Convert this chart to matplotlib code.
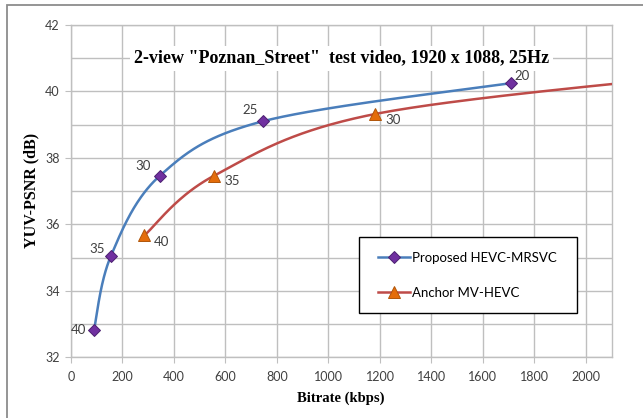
import numpy as np
import matplotlib.pyplot as plt
from matplotlib.patches import Rectangle

# Rate-distortion points (QP labelled next to each marker)
proposed_rate = [89, 155, 346, 744, 1707]
proposed_psnr = [32.81, 35.05, 37.47, 39.10, 40.25]
proposed_qp = ["40", "35", "30", "25", "20"]

anchor_rate = [285, 557, 1180, 2600]
anchor_psnr = [35.67, 37.47, 39.32, 40.62]
anchor_qp = ["40", "35", "30", "25"]

x_ticks = list(range(0, 2001, 200))
y_ticks = [32, 34, 36, 38, 40, 42]

BLUE = "#4A7EBB"
RED = "#BE4B48"
GRID = "#BFBFBF"
TEXT = "#404040"


def smooth_curve(xs, ys, n=60):
    """
    Excel-style smoothed line: cubic Bezier segments with Catmull-Rom tangents.
    """
    p = np.column_stack([xs, ys]).astype(float)
    ext = np.vstack([p[0], p, p[-1]])
    out = []
    for i in range(len(p) - 1):
        p0, p1, p2, p3 = ext[i], ext[i + 1], ext[i + 2], ext[i + 3]
        c1 = p1 + (p2 - p0) / 6.0
        c2 = p2 - (p3 - p1) / 6.0
        t = np.linspace(0, 1, n)[:, None]
        seg = ((1 - t) ** 3) * p1 + 3 * ((1 - t) ** 2) * t * c1 \
            + 3 * (1 - t) * t ** 2 * c2 + t ** 3 * p2
        out.append(seg if i == 0 else seg[1:])
    out = np.vstack(out)
    return out[:, 0], out[:, 1]


plt.rcParams["font.family"] = ["Lato", "DejaVu Sans"]

W, H = 643, 418
fig = plt.figure(figsize=(W / 100, H / 100), dpi=100)
ax = fig.add_axes([71 / W, 1 - 357.3 / H, 540.7 / W, 332.3 / H])

# outer chart border (only left/top visible in the reference)
fig.patches.append(Rectangle((7 / W, -0.1), 1.2, 1 - 5 / H + 0.1,
                             transform=fig.transFigure, fill=False,
                             edgecolor="#8C8C8C", lw=1.3))

bx, by = smooth_curve(proposed_rate, proposed_psnr)
ax.plot(bx, by, color=BLUE, lw=1.8, zorder=3)
rx, ry = smooth_curve(anchor_rate, anchor_psnr)
ax.plot(rx, ry, color=RED, lw=1.8, zorder=3)

ax.plot(proposed_rate, proposed_psnr, linestyle="none", marker="D", ms=6,
        mfc="#7030A0", mec="#4B2070", mew=0.7, zorder=4)
ax.plot(anchor_rate, anchor_psnr, linestyle="none", marker="^", ms=8,
        mfc="#E46C0A", mec="#B0560A", mew=0.7, zorder=4)

# QP labels
prop_offsets = [(-11, 0), (-10, 5), (-12, 7), (-9, 8), (8, 5)]
for x, y, s, (dx, dy) in zip(proposed_rate, proposed_psnr, proposed_qp, prop_offsets):
    ax.annotate(s, (x, y), xytext=(dx, dy), textcoords="offset points",
                ha="center", va="center", fontsize=9.5, color=TEXT, zorder=7)
anch_offsets = [(12, -5), (13, -4), (13, -4), (13, -4)]
for x, y, s, (dx, dy) in zip(anchor_rate, anchor_psnr, anchor_qp, anch_offsets):
    if x <= 2100:
        ax.annotate(s, (x, y), xytext=(dx, dy), textcoords="offset points",
                    ha="center", va="center", fontsize=9.5, color=TEXT, zorder=7)

ax.set_xlim(0, 2100)
ax.set_ylim(32, 42)
ax.set_xticks(x_ticks)
ax.set_yticks(y_ticks)
ax.set_yticks(range(33, 42, 2), minor=True)
ax.tick_params(axis="both", which="major", direction="out", length=4,
               color=GRID, labelsize=9, labelcolor=TEXT)
ax.tick_params(axis="x", which="major", pad=6)
ax.tick_params(axis="y", which="major", pad=4)
ax.tick_params(axis="y", which="minor", length=0)
ax.grid(True, which="both", color=GRID, lw=1.0)
ax.set_axisbelow(True)
for sp in ax.spines.values():
    sp.set_color(GRID)
    sp.set_linewidth(1.0)

serif = ["Liberation Serif", "DejaVu Serif"]
ax.text(0.5, 0.9, '2-view "Poznan_Street"  test video, 1920 x 1088, 25Hz',
        transform=ax.transAxes, ha="center", va="center", fontsize=13,
        fontweight="bold", family=serif, color="black", zorder=2,
        bbox=dict(facecolor="white", edgecolor="none", pad=3))
fig.text(341 / W, 1 - 398 / H, "Bitrate (kbps)", ha="center", va="center",
         fontsize=10.5, fontweight="bold", family=serif)
fig.text(31 / W, 1 - 190 / H, "YUV-PSNR (dB)", ha="center", va="center",
         rotation=90, fontsize=11.5, fontweight="bold", family=serif)

# legend: frame drawn separately so the inner spacing can match
fig.patches.append(Rectangle((359 / W, 1 - 313 / H), 218 / W, 76 / H,
                             transform=fig.transFigure, facecolor="white",
                             edgecolor="black", lw=1.0, zorder=8))
leg_h = [ax.plot([], [], color=BLUE, lw=1.8, marker="D", ms=6, mfc="#7030A0",
                 mec="#4B2070", mew=0.7)[0],
         ax.plot([], [], color=RED, lw=1.8, marker="^", ms=8, mfc="#E46C0A",
                 mec="#B0560A", mew=0.7)[0]]
leg = fig.legend(leg_h, ["Proposed HEVC-MRSVC", "Anchor MV-HEVC"],
                 loc="center left",
                 bbox_to_anchor=(378 / W, 1 - 275.5 / H),
                 frameon=False, fontsize=9.5, handlelength=2.4,
                 handletextpad=0.15, labelspacing=1.75, borderpad=0,
                 borderaxespad=0, labelcolor="black")
leg.set_zorder(9)

fig.savefig("out.png", dpi=100)
